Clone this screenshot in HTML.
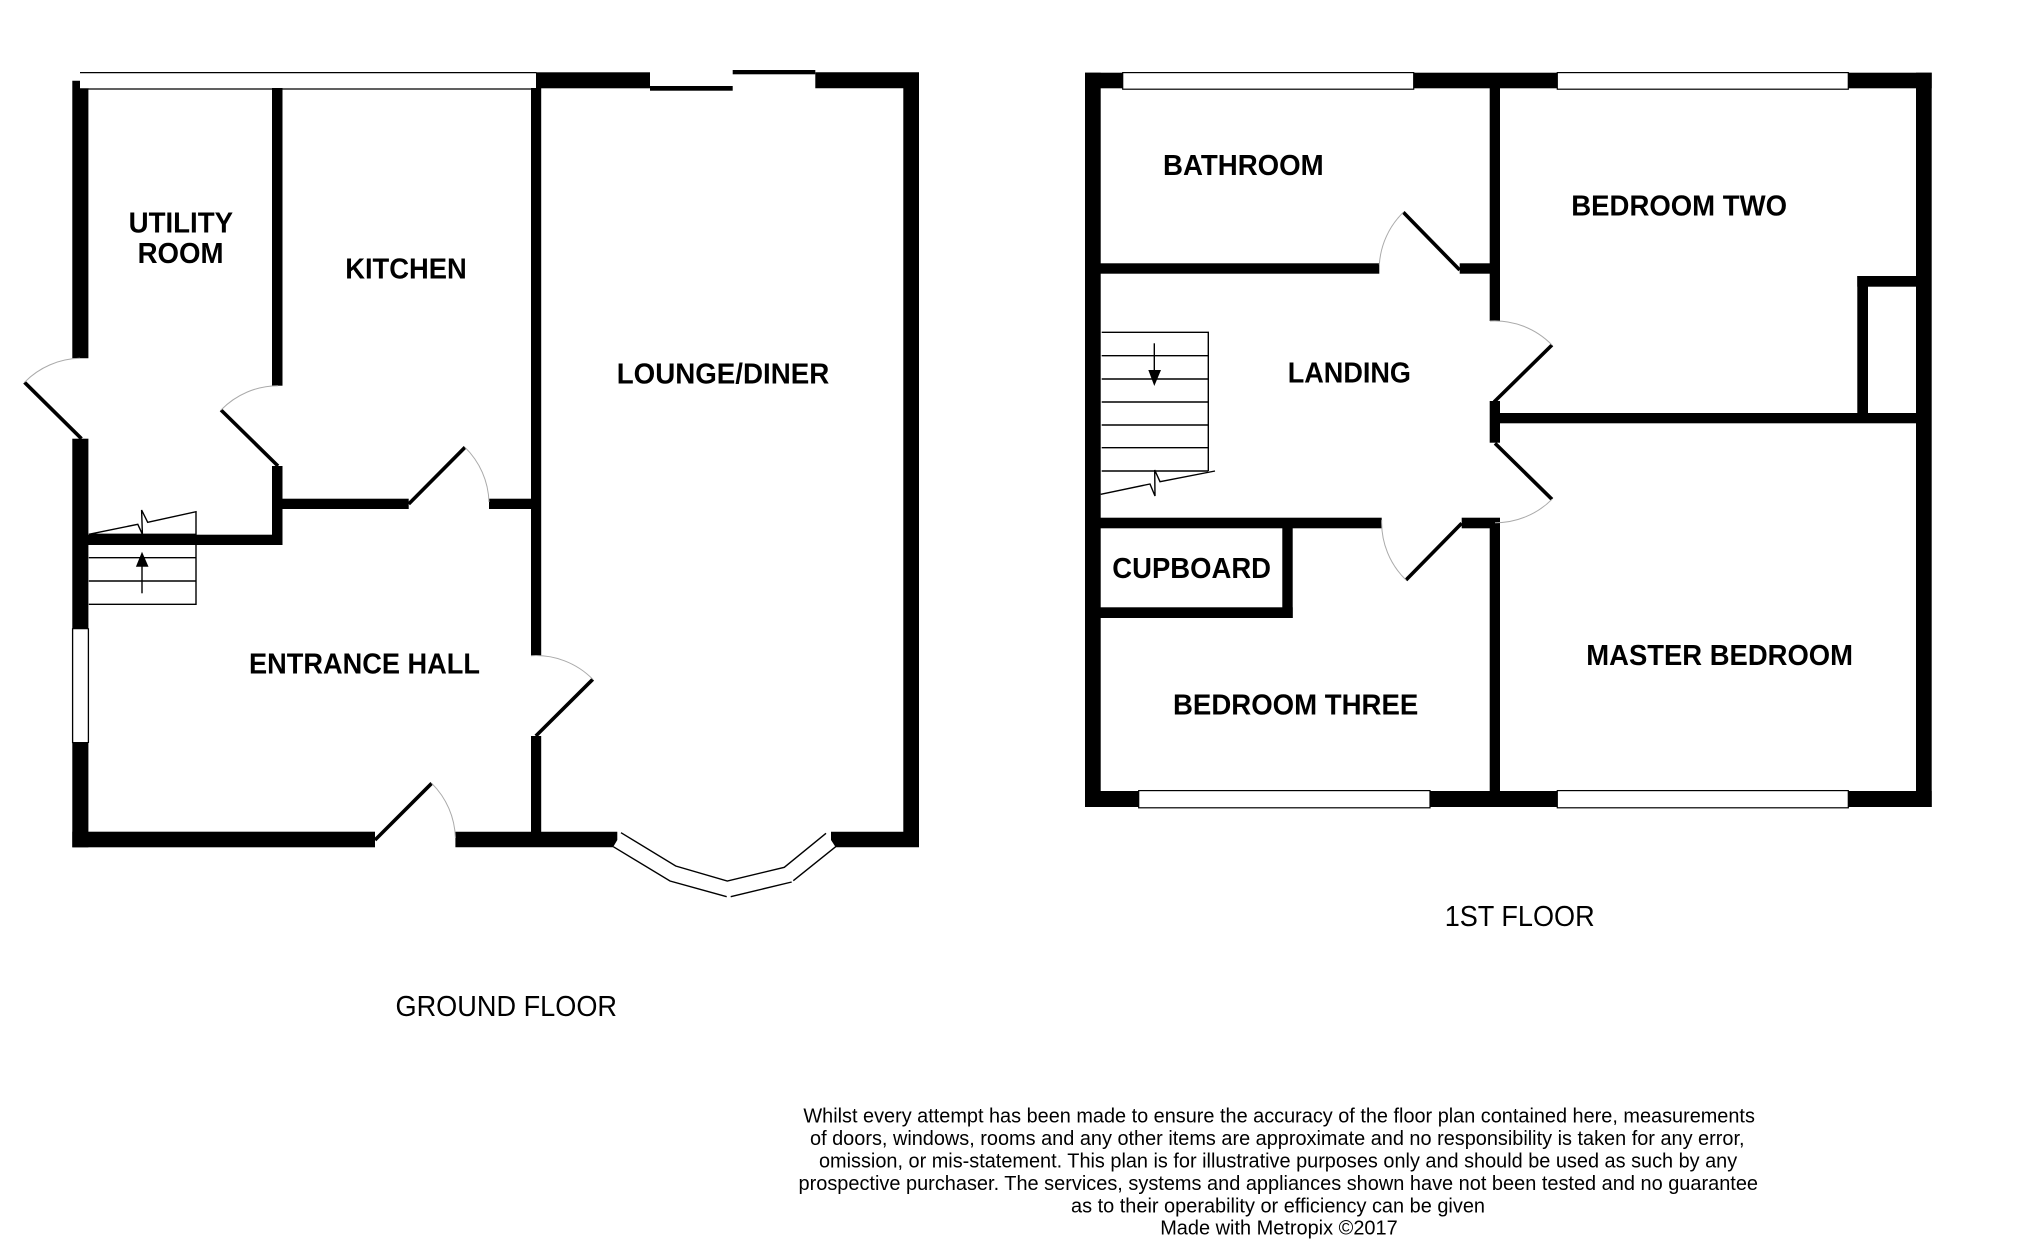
<!DOCTYPE html>
<html lang="en">
<head>
<meta charset="utf-8">
<title>Floor plan</title>
<style>
html,body{margin:0;padding:0;background:#fff;width:2025px;height:1247px;overflow:hidden}
svg{display:block;position:absolute;left:0;top:0}
text{font-family:"Liberation Sans",Arial,sans-serif;fill:#000}
.r{font-weight:700;font-size:28.5px}
.f{font-size:28.5px}
.d{font-size:20.5px}
.leaf{stroke:#000;stroke-width:3.6;fill:none}
.arc{stroke:#aaa;stroke-width:1;fill:none}
.thin{stroke:#000;stroke-width:1.4;fill:none}
.wline{stroke:#000;stroke-width:1.3;fill:none}
</style>
</head>
<body>
<svg width="2025" height="1247" viewBox="0 0 2025 1247" xmlns="http://www.w3.org/2000/svg">
<rect width="2025" height="1247" fill="#fff"/>

<!-- GROUND FLOOR walls -->
<g fill="#000">
  <path d="M72.3 80.7H80V88.3H88.4V358.3H72.3Z"/>
  <rect x="72.3" y="438.7" width="16.1" height="189.6"/>
  <rect x="72.3" y="743" width="16.1" height="104.3"/>
  <rect x="72.3" y="831.7" width="302.7" height="15.6"/>
  <path d="M455.4 831.7H617.3V840L613 847.3H455.4Z"/>
  <path d="M831 831.7H903.3V72.3H815.3V88.3H903.3V72.3H919V847.3H835.7L831 840Z"/>
  <rect x="536" y="72.3" width="114" height="16"/>
  <rect x="650" y="86" width="82.7" height="4.7"/>
  <rect x="732.7" y="70" width="82.6" height="4.3"/>
  <rect x="272" y="88" width="10.5" height="297.7"/>
  <rect x="272" y="466" width="10.5" height="79"/>
  <rect x="282" y="498.7" width="126.7" height="10.3"/>
  <rect x="489" y="498.7" width="42" height="10.3"/>
  <rect x="531" y="88" width="10.2" height="567.7"/>
  <rect x="531" y="736" width="10.2" height="100"/>
  <rect x="88" y="534.7" width="194.5" height="10.3"/>
</g>
<!-- ground floor windows -->
<path class="wline" d="M80 72.6H536.5M88 89H536.5M72.6 628.3V743M88.4 628.3V743M72.3 628.6H88.4M72.3 742.7H88.4"/>

<!-- ground floor doors -->
<path class="leaf" d="M81.5 438.7L24.5 382.3"/>
<path class="arc" d="M80 358.3A80 80 0 0 0 24.5 382.3"/>
<path class="leaf" d="M278 466L221 410"/>
<path class="arc" d="M278 385.7A80 80 0 0 0 221 410"/>
<path class="leaf" d="M408.7 504L465 447.3"/>
<path class="arc" d="M465 447.3A80 80 0 0 1 489 502"/>
<path class="leaf" d="M535.8 736L592.8 679.3"/>
<path class="arc" d="M531 655.7A80 80 0 0 1 592.8 679.3"/>
<path class="leaf" d="M375 840L431.7 783.3"/>
<path class="arc" d="M431.7 783.3A80 80 0 0 1 455.4 838"/>

<!-- ground floor stairs -->
<path class="thin" d="M88.8 604.3H196V511.7L147.7 522.3L141.6 510L142.4 534.3L137.8 524.3L88.8 534.3M88.8 581H196M88.8 557.7H196M88.8 534.3H196"/>
<path class="thin" d="M142 593.3V560"/>
<path d="M142 551.7L148.5 566.7H135.9Z" fill="#000"/>

<!-- bay window -->
<path class="thin" d="M613.3 846.7L670 881L726.7 896.7M730.7 896.7L791.7 882M793.3 880.7L835.7 846.7"/>
<path class="thin" d="M621 832.7L675.7 866L727.3 881L784.3 867.3L826 833.3"/>

<!-- FIRST FLOOR walls -->
<g fill="#000">
  <rect x="1085" y="72.7" width="15.7" height="734.3"/>
  <rect x="1085" y="72.7" width="846.7" height="15.6"/>
  <rect x="1916" y="72.7" width="15.7" height="734.3"/>
  <rect x="1085" y="791" width="846.7" height="16"/>
  <rect x="1489.7" y="88" width="10.3" height="233"/>
  <rect x="1489.7" y="401" width="10.3" height="41.7"/>
  <rect x="1489.7" y="518.3" width="10.3" height="273"/>
  <rect x="1100" y="263.3" width="279.3" height="10.4"/>
  <rect x="1459.7" y="263.3" width="30.3" height="10.4"/>
  <rect x="1100" y="517.7" width="281.7" height="10.6"/>
  <rect x="1461.7" y="517.7" width="38.3" height="10.6"/>
  <rect x="1282.3" y="528" width="10.4" height="90"/>
  <rect x="1100" y="607.3" width="192.7" height="10.7"/>
  <rect x="1500" y="413" width="416" height="10.3"/>
  <rect x="1857.3" y="276" width="10.7" height="140"/>
  <rect x="1857.3" y="276" width="58.7" height="10.7"/>
</g>
<!-- first floor windows -->
<g fill="#fff" stroke="#000" stroke-width="1.2">
  <rect x="1122.7" y="72.6" width="291" height="16.6"/>
  <rect x="1557.3" y="72.6" width="291" height="16.6"/>
  <rect x="1138.7" y="790.6" width="291.3" height="17.2"/>
  <rect x="1557.3" y="790.6" width="291" height="17.2"/>
</g>

<!-- first floor doors -->
<path class="leaf" d="M1459.7 270L1403.3 212.3"/>
<path class="arc" d="M1403.3 212.3A80 80 0 0 0 1379.3 265"/>
<path class="leaf" d="M1494 402L1552 345"/>
<path class="arc" d="M1490 321A80 80 0 0 1 1552 345"/>
<path class="leaf" d="M1495 443.3L1552 499.3"/>
<path class="arc" d="M1552 499.3A80 80 0 0 1 1495 522.7"/>
<path class="leaf" d="M1461.7 523.3L1406 580"/>
<path class="arc" d="M1381.7 520A80 80 0 0 0 1406 580"/>

<!-- first floor stairs -->
<path class="thin" d="M1101.7 332.3H1208.3V471M1101.7 355.7H1208.3M1101.7 379H1208.3M1101.7 402H1208.3M1101.7 425H1208.3M1101.7 447.7H1208.3M1101.7 471H1208.3"/>
<path class="thin" d="M1215 471L1160 481.7L1154.7 470L1155 496L1150 484L1100.7 494.3"/>
<path class="thin" d="M1154.3 343.3V375"/>
<path d="M1154.3 386L1148.3 370H1161Z" fill="#000"/>

<!-- room labels -->
<text class="r" x="128.6" y="232.7" textLength="104.5" lengthAdjust="spacingAndGlyphs">UTILITY</text>
<text class="r" x="137.6" y="263" textLength="86" lengthAdjust="spacingAndGlyphs">ROOM</text>
<text class="r" x="345.2" y="278.3" textLength="121.6" lengthAdjust="spacingAndGlyphs">KITCHEN</text>
<text class="r" x="616.7" y="383.3" textLength="212.6" lengthAdjust="spacingAndGlyphs">LOUNGE/DINER</text>
<text class="r" x="249" y="673.3" textLength="231" lengthAdjust="spacingAndGlyphs">ENTRANCE HALL</text>
<text class="r" x="1163" y="175" textLength="160.7" lengthAdjust="spacingAndGlyphs">BATHROOM</text>
<text class="r" x="1287.7" y="382.3" textLength="123.3" lengthAdjust="spacingAndGlyphs">LANDING</text>
<text class="r" x="1571.3" y="215.3" textLength="215.7" lengthAdjust="spacingAndGlyphs">BEDROOM TWO</text>
<text class="r" x="1112.3" y="578" textLength="158.7" lengthAdjust="spacingAndGlyphs">CUPBOARD</text>
<text class="r" x="1173" y="714.7" textLength="245.3" lengthAdjust="spacingAndGlyphs">BEDROOM THREE</text>
<text class="r" x="1586.3" y="665" textLength="266.7" lengthAdjust="spacingAndGlyphs">MASTER BEDROOM</text>

<!-- floor labels -->
<text class="f" x="395.5" y="1016" textLength="221.5" lengthAdjust="spacingAndGlyphs">GROUND FLOOR</text>
<text class="f" x="1444.7" y="926" textLength="150" lengthAdjust="spacingAndGlyphs">1ST FLOOR</text>

<!-- disclaimer -->
<text class="d" x="803.4" y="1127" transform="translate(0,-4.5)" textLength="951.5" lengthAdjust="spacingAndGlyphs">Whilst every attempt has been made to ensure the accuracy of the floor plan contained here, measurements</text>
<text class="d" x="810" y="1149.5" transform="translate(0,-4.5)" textLength="934.5" lengthAdjust="spacingAndGlyphs">of doors, windows, rooms and any other items are approximate and no responsibility is taken for any error,</text>
<text class="d" x="819" y="1172" transform="translate(0,-4.5)" textLength="918.2" lengthAdjust="spacingAndGlyphs">omission, or mis-statement. This plan is for illustrative purposes only and should be used as such by any</text>
<text class="d" x="798.5" y="1194.5" transform="translate(0,-4.5)" textLength="959.5" lengthAdjust="spacingAndGlyphs">prospective purchaser. The services, systems and appliances shown have not been tested and no guarantee</text>
<text class="d" x="1071" y="1217" transform="translate(0,-4.5)" textLength="414" lengthAdjust="spacingAndGlyphs">as to their operability or efficiency can be given</text>
<text class="d" x="1160.2" y="1239" transform="translate(0,-4.5)" textLength="237.5" lengthAdjust="spacingAndGlyphs">Made with Metropix ©2017</text>
</svg>
</body>
</html>
